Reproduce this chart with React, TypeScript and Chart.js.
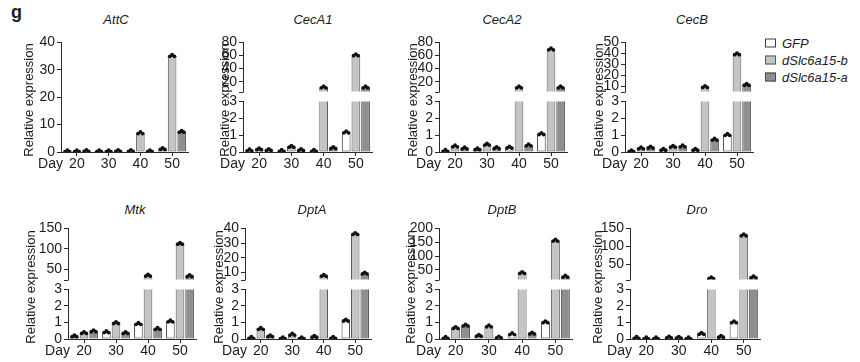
import React, { useEffect, useRef } from "react";
import { Chart, registerables } from "chart.js";

Chart.register(...registerables);

// ---------- data ----------
const days = ["20", "30", "40", "50"];
const seriesNames = ["GFP", "dSlc6a15-b", "dSlc6a15-a"];

const attcGFP = [0.2, 0.2, 0.3, 1.0];
const attcB = [0.2, 0.2, 6.8, 35];
const attcA = [0.3, 0.3, 0.2, 7.3];

const cecA1GFP = [0.08, 0.05, 0.05, 1.15];
const cecA1B = [0.15, 0.3, 11, 60];
const cecA1A = [0.1, 0.1, 0.22, 11];

const cecA2GFP = [0.05, 0.15, 0.25, 1.05];
const cecA2B = [0.32, 0.42, 11, 69];
const cecA2A = [0.2, 0.22, 0.38, 11];

const cecBGFP = [0.03, 0.12, 0.12, 1.0];
const cecBB = [0.2, 0.3, 9, 39];
const cecBA = [0.25, 0.32, 0.72, 11];

const mtkGFP = [0.15, 0.4, 0.9, 1.05];
const mtkB = [0.35, 0.95, 34, 112];
const mtkA = [0.45, 0.35, 0.6, 33];

const dptAGFP = [0.05, 0.03, 0.12, 1.1];
const dptAB = [0.6, 0.25, 7.5, 36];
const dptAA = [0.15, 0.03, 0.05, 9];

const dptBGFP = [0.05, 0.18, 0.28, 1.0];
const dptBB = [0.65, 0.75, 38, 155];
const dptBA = [0.8, 0.08, 0.32, 25];

const droGFP = [0.05, 0.08, 0.3, 1.0];
const droB = [0.02, 0.06, 10, 130];
const droA = [0.02, 0.02, 0.12, 13];

// tick labels / axis ranges
const lowTicks = [0, 1, 2, 3];
const lowMax = 3;
const attcTicks = [0, 10, 20, 30, 40];
const cecA1Ticks = [20, 40, 60, 80];
const cecA2Ticks = [20, 40, 60, 80];
const cecBTicks = [10, 20, 30, 40, 50];
const mtkTicks = [50, 100, 150];
const dptATicks = [10, 20, 30, 40];
const dptBTicks = [50, 100, 150, 200];
const droTicks = [50, 100, 150];
const cecA1Range = [5, 80];
const cecA2Range = [5, 80];
const cecBRange = [5, 50];
const mtkRange = [25, 150];
const dptARange = [5, 40];
const dptBRange = [15, 200];
const droRange = [7, 150];

// ---------- style ----------
const FONT = "'Liberation Sans', Arial, Helvetica, sans-serif";
const TXT = "#1c1c1c";
const AXIS = "#2a2a2a";
const FILLS = ["#ffffff", "#c4c4c4", "#8f8f8f"];
const EDGES = ["#3c3c3c", "#5a5a5a", "#4a4a4a"];

const YW = 50;
const PT = 10;
const PB = 10;
const PR = 4;
const XH = 26;

const rows = [
  { top: [42, 92], low: [101, 152], titleY: 19, yTitleY: 100 },
  { top: [228, 280], low: [289, 339], titleY: 209, yTitleY: 287 },
];

type Panel = {
  title: string;
  series: number[][];
  row: number;
  axisX: number;
  xEnd: number;
  titleX: number;
  yTitleX: number;
  full?: { min: number; max: number; ticks: number[] };
  top?: { min: number; max: number; ticks: number[] };
};

const panels: Panel[] = [
  { title: "AttC", series: [attcGFP, attcB, attcA], row: 0, axisX: 61, xEnd: 188, titleX: 116, yTitleX: 28, full: { min: 0, max: 40, ticks: attcTicks } },
  { title: "CecA1", series: [cecA1GFP, cecA1B, cecA1A], row: 0, axisX: 243, xEnd: 372, titleX: 313, yTitleX: 224, top: { min: cecA1Range[0], max: cecA1Range[1], ticks: cecA1Ticks } },
  { title: "CecA2", series: [cecA2GFP, cecA2B, cecA2A], row: 0, axisX: 439, xEnd: 567, titleX: 502, yTitleX: 412, top: { min: cecA2Range[0], max: cecA2Range[1], ticks: cecA2Ticks } },
  { title: "CecB", series: [cecBGFP, cecBB, cecBA], row: 0, axisX: 625, xEnd: 753, titleX: 692, yTitleX: 598, top: { min: cecBRange[0], max: cecBRange[1], ticks: cecBTicks } },
  { title: "Mtk", series: [mtkGFP, mtkB, mtkA], row: 1, axisX: 68, xEnd: 196, titleX: 135, yTitleX: 30, top: { min: mtkRange[0], max: mtkRange[1], ticks: mtkTicks } },
  { title: "DptA", series: [dptAGFP, dptAB, dptAA], row: 1, axisX: 245, xEnd: 371, titleX: 312, yTitleX: 218, top: { min: dptARange[0], max: dptARange[1], ticks: dptATicks } },
  { title: "DptB", series: [dptBGFP, dptBB, dptBA], row: 1, axisX: 439, xEnd: 572, titleX: 502, yTitleX: 410, top: { min: dptBRange[0], max: dptBRange[1], ticks: dptBTicks } },
  { title: "Dro", series: [droGFP, droB, droA], row: 1, axisX: 630, xEnd: 760, titleX: 697, yTitleX: 597, top: { min: droRange[0], max: droRange[1], ticks: droTicks } },
];

// ---------- plugins ----------
const dotsPlugin = {
  id: "dots",
  afterDatasetsDraw(chart: any) {
    const { ctx, chartArea, scales } = chart;
    const y = scales.y;
    ctx.save();
    ctx.beginPath();
    ctx.rect(chartArea.left, chartArea.top - 8, chartArea.right - chartArea.left, chartArea.bottom - chartArea.top + 8);
    ctx.clip();
    ctx.fillStyle = "#111";
    chart.data.datasets.forEach((ds: any, i: number) => {
      const meta = chart.getDatasetMeta(i);
      meta.data.forEach((bar: any, j: number) => {
        const v = ds.data[j];
        if (v < y.min || v > y.max) return;
        const offs = [
          [-2.3, 0.2],
          [2.3, 0.2],
          [0, -1.4],
        ];
        offs.forEach(([dx, dy]) => {
          ctx.beginPath();
          ctx.arc(bar.x + dx, bar.y + dy, 1.9, 0, Math.PI * 2);
          ctx.fill();
        });
      });
    });
    ctx.restore();
  },
};

const dayPlugin = {
  id: "day",
  afterDraw(chart: any) {
    const { ctx, chartArea } = chart;
    ctx.save();
    ctx.font = `14px ${FONT}`;
    ctx.fillStyle = TXT;
    ctx.textAlign = "right";
    ctx.textBaseline = "middle";
    ctx.fillText("Day", chartArea.left + 2, chartArea.bottom + 12);
    ctx.restore();
  },
};

const breakPlugin = {
  id: "breakMark",
  afterDraw(chart: any) {
    const { ctx, chartArea } = chart;
    ctx.save();
    ctx.strokeStyle = AXIS;
    ctx.lineWidth = 1;
    ctx.beginPath();
    ctx.moveTo(chartArea.left - 4, Math.round(chartArea.bottom) + 0.5);
    ctx.lineTo(chartArea.left + 0.5, Math.round(chartArea.bottom) + 0.5);
    ctx.stroke();
    ctx.restore();
  },
};

function makeConfig(series: number[][], min: number, max: number, ticks: number[], showX: boolean, isTop: boolean) {
  const plugins: any[] = [dotsPlugin];
  if (showX) plugins.push(dayPlugin);
  if (isTop) plugins.push(breakPlugin);
  return {
    type: "bar",
    data: {
      labels: days,
      datasets: series.map((d, i) => ({
        label: seriesNames[i],
        data: d,
        backgroundColor: FILLS[i],
        borderColor: EDGES[i],
        borderWidth: 1,
        borderSkipped: false,
        clip: 0,
        categoryPercentage: 0.9,
        barPercentage: 0.9,
      })),
    },
    options: {
      animation: false,
      responsive: false,
      devicePixelRatio: 1,
      events: [],
      layout: { padding: { top: PT, right: PR, bottom: showX ? 0 : PB, left: 0 } },
      plugins: { legend: { display: false }, tooltip: { enabled: false }, title: { display: false } },
      scales: {
        x: {
          display: showX,
          grid: { drawOnChartArea: false, drawTicks: true, tickLength: 4, color: AXIS, offset: false },
          border: { display: true, color: AXIS, width: 1 },
          ticks: { font: { family: FONT, size: 14 }, color: TXT, padding: 0, maxRotation: 0, autoSkip: false },
          afterFit: (s: any) => {
            s.height = showX ? XH : 0;
          },
        },
        y: {
          min,
          max,
          afterBuildTicks: (s: any) => {
            s.ticks = ticks.map((v) => ({ value: v }));
          },
          grid: { drawOnChartArea: false, drawTicks: true, tickLength: 4, color: AXIS },
          border: { display: true, color: AXIS, width: 1 },
          ticks: { font: { family: FONT, size: 14 }, color: TXT, padding: 2, autoSkip: false },
          afterFit: (s: any) => {
            s.width = YW;
          },
        },
      },
    },
    plugins,
  };
}

function Segment({ left, top, w, h, cfg }: { left: number; top: number; w: number; h: number; cfg: () => any }) {
  const ref = useRef<HTMLCanvasElement | null>(null);
  useEffect(() => {
    const chart = new Chart(ref.current as HTMLCanvasElement, cfg() as any);
    return () => chart.destroy();
  }, []);
  return <canvas ref={ref} width={w} height={h} style={{ position: "absolute", left, top, width: w, height: h }} />;
}

export default function App() {
  const segs: any[] = [];
  panels.forEach((p, pi) => {
    const r = rows[p.row];
    const left = p.axisX - YW;
    const w = YW + (p.xEnd - p.axisX) + PR;
    if (p.full) {
      const [t, b] = [r.top[0], r.low[1]];
      segs.push({ key: `f${pi}`, left, top: t - PT, w, h: PT + (b - t) + XH, cfg: () => makeConfig(p.series, p.full!.min, p.full!.max, p.full!.ticks, true, false) });
    } else if (p.top) {
      const [t1, b1] = r.top;
      segs.push({ key: `t${pi}`, left, top: t1 - PT, w, h: PT + (b1 - t1) + PB, cfg: () => makeConfig(p.series, p.top!.min, p.top!.max, p.top!.ticks, false, true) });
      const [t2, b2] = r.low;
      segs.push({ key: `l${pi}`, left, top: t2 - PT, w, h: PT + (b2 - t2) + XH, cfg: () => makeConfig(p.series, 0, lowMax, lowTicks, true, false) });
    }
  });

  const text: React.CSSProperties = { position: "absolute", fontFamily: FONT, color: TXT, whiteSpace: "nowrap" };

  return (
    <div style={{ position: "fixed", left: 0, top: 0, width: 860, height: 362, background: "#fff", overflow: "hidden" }}>
      <div style={{ ...text, left: 11, top: 2, fontSize: 18, fontWeight: "bold" }}>g</div>
      {segs.map((s) => (
        <Segment key={s.key} left={s.left} top={s.top} w={s.w} h={s.h} cfg={s.cfg} />
      ))}
      {panels.map((p) => (
        <div key={"t" + p.title} style={{ ...text, left: p.titleX, top: rows[p.row].titleY, transform: "translate(-50%,-50%)", fontSize: 13, fontStyle: "italic" }}>
          {p.title}
        </div>
      ))}
      {panels.map((p) => (
        <div key={"y" + p.title} style={{ ...text, left: p.yTitleX, top: rows[p.row].yTitleY, transform: "translate(-50%,-50%) rotate(-90deg)", fontSize: 13 }}>
          Relative expression
        </div>
      ))}
      {seriesNames.map((n, i) => (
        <div key={n} style={{ ...text, left: 765, top: 43 + i * 17, transform: "translateY(-50%)", fontSize: 13, fontStyle: "italic", display: "flex", alignItems: "center" }}>
          <span style={{ display: "inline-block", width: 11, height: 9, background: FILLS[i], border: `1px solid ${EDGES[i]}`, marginRight: 6, boxSizing: "border-box" }} />
          {n}
        </div>
      ))}
    </div>
  );
}
